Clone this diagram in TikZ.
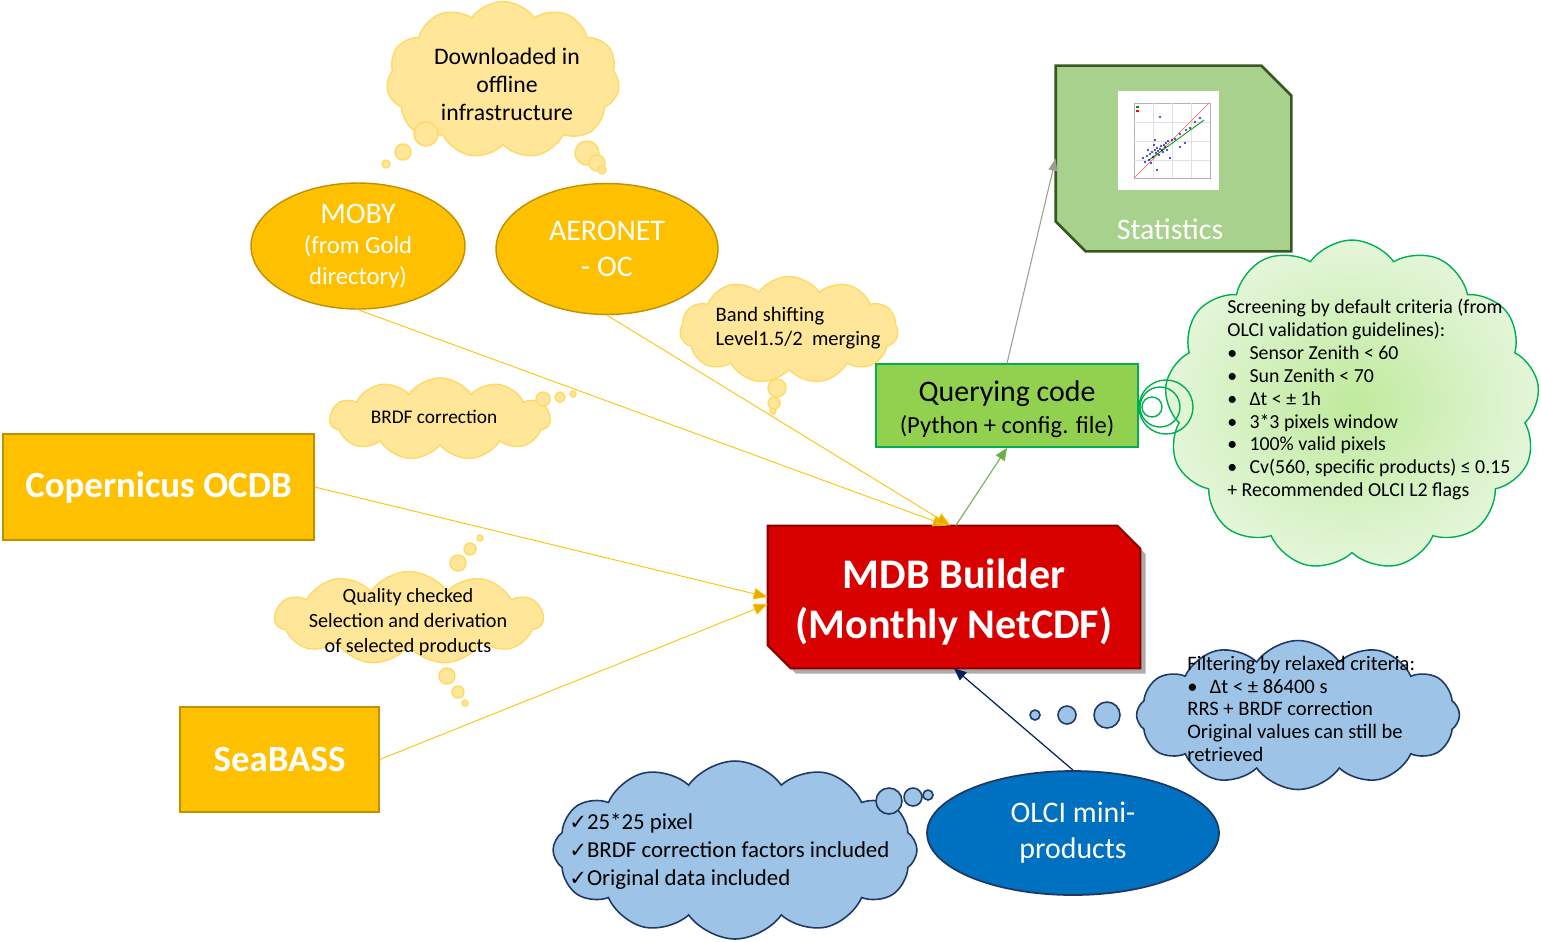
\documentclass[tikz,border=0pt]{standalone}
\usepackage{fontspec}
\setmainfont{Carlito}
\newfontfamily\checkfont{DejaVu Sans}
\usetikzlibrary{shapes.geometric,shapes.symbols,arrows.meta}

\definecolor{gold}{HTML}{FFC000}
\definecolor{goldedge}{HTML}{BF9000}
\definecolor{arrowgold}{HTML}{E6AC00}
\definecolor{ycloud}{HTML}{FFE699}
\definecolor{ycloudedge}{HTML}{FFD966}
\definecolor{bcloud}{HTML}{9DC3E6}
\definecolor{navy}{HTML}{1F3864}
\definecolor{arrownavy}{HTML}{002060}
\definecolor{olciblue}{HTML}{0070C0}
\definecolor{qgreen}{HTML}{92D050}
\definecolor{qedge}{HTML}{00B050}
\definecolor{arrowgreen}{HTML}{70AD47}
\definecolor{statfill}{HTML}{A9D18E}
\definecolor{statedge}{HTML}{385723}
\definecolor{gcenter}{HTML}{BFEA9C}
\definecolor{gouter}{HTML}{E4F6DA}
\definecolor{mdbred}{HTML}{D90000}
\definecolor{arrowgray}{HTML}{A09A90}

\newcommand{\fsz}[2]{\fontsize{#1}{#2}\selectfont}
\newcommand{\bitem}{\textbullet\hspace{7pt}}
\newcommand{\tick}{{\checkfont\fsz{12}{16}✓}}
% outline of a box with its top right and bottom left corners cut off
\newcommand{\snipped}[2]{(#1.north west) -- ([xshift=-#2]#1.north east) -- ([yshift=-#2]#1.north east) -- (#1.south east) -- ([xshift=#2]#1.south west) -- ([yshift=#2]#1.south west) -- cycle}

\begin{document}
\begin{tikzpicture}[x=0.02cm,y=-0.02cm,
    src/.style={fill=gold,draw=goldedge,line width=0.8pt,text=white},
    ycl/.style={cloud,cloud puffs=11,cloud puff arc=110,cloud ignores aspect,fill=ycloud,draw=ycloudedge,line width=0.8pt,inner sep=0pt},
    ybub/.style={fill=ycloud,draw=ycloudedge,line width=0.8pt},
    bcl/.style={cloud,cloud puffs=12,cloud puff arc=110,cloud ignores aspect,fill=bcloud,draw=navy,line width=0.9pt,inner sep=0pt},
    bbub/.style={fill=bcloud,draw=navy,line width=0.9pt},
    feed/.style={draw=gold,line width=0.5pt,-{Triangle[length=8pt,width=6.5pt,fill=arrowgold]}}]
    \useasboundingbox (0,0) rectangle (1541,941);

    \node[ycl,minimum width=4.66cm,minimum height=3.14cm] (dlcloud) at (503,80) {};
    \foreach \x/\y/\r in {426/134/12,403/152/8,386/164/4,587/153/12,597/163/8,602/170/4}
        \draw[ybub] (\x,\y) circle (\r);
    \node[align=center,font=\fsz{13.5}{16}] (dltext) at (507,84) {Downloaded in\\offline\\infrastructure};

    \node[src,ellipse,minimum width=4.28cm,minimum height=2.52cm,inner sep=0pt,align=center,font=\fsz{14}{17.3}] (moby) at (358,246) {{\fsz{17}{17.3}MOBY}\\(from Gold\\directory)};
    \node[src,ellipse,minimum width=4.44cm,minimum height=2.62cm,inner sep=0pt,align=center,font=\fsz{17}{20.5}] (aeronet) at (607,249) {AERONET\\- OC};

    \node[ycl,minimum width=4.36cm,minimum height=2.14cm] (bandcloud) at (789,330) {};
    \foreach \x/\y/\r in {777/388/9,774/403/6,773/411/3}
        \draw[ybub] (\x,\y) circle (\r);
    \node[align=left,font=\fsz{11.7}{14}] (bandtext) at (798,328) {Band shifting\\Level1.5/2\ \ merging};

    \node[ycl,minimum width=4.4cm,minimum height=1.64cm] (brdfcloud) at (440,419) {};
    \foreach \x/\y/\r in {543/399/7,560/397/5,573/394/3}
        \draw[ybub] (\x,\y) circle (\r);
    \node[font=\fsz{11}{13}] (brdftext) at (434,417) {BRDF correction};

    \node[ycl,minimum width=5.36cm,minimum height=1.86cm] (qccloud) at (409,618) {};
    \foreach \x/\y/\r in {458/563/8,470/549/6,480/538/3,447/676/8,458/692/6,465/703/3}
        \draw[ybub] (\x,\y) circle (\r);
    \node[align=center,font=\fsz{11.5}{14}] (qctext) at (408,622) {Quality checked\\Selection and derivation\\of selected products};

    \node[src,minimum width=6.22cm,minimum height=2.12cm,font=\bfseries\fsz{21}{25}] (ocdb) at (158.5,487) {Copernicus OCDB};
    \node[src,minimum width=3.98cm,minimum height=2.1cm,font=\bfseries\fsz{21}{25}] (seabass) at (279.5,759.5) {SeaBASS};

    \node[minimum width=7.44cm,minimum height=2.84cm,inner sep=0pt] (mdb) at (954,597) {};
    \fill[black!55,opacity=0.6,transform canvas={shift={(3pt,-3pt)}}] \snipped{mdb}{0.46cm};
    \draw[fill=mdbred,draw=mdbred!65!black,line width=1.2pt] \snipped{mdb}{0.46cm};
    \node[text=white,font=\bfseries\fsz{24}{28.5},align=center] (mdbtext) at (954,602) {MDB Builder\\(Monthly NetCDF)};

    \node[fill=qgreen,draw=qedge,line width=1pt,minimum width=5.24cm,minimum height=1.66cm] (query) at (1007,405.5) {};
    \node[align=center,font=\fsz{14}{18}] (querytext) at (1007,409) {{\fsz{17}{18}Querying code}\\(Python + config. file)};

    \node[minimum width=4.7cm,minimum height=3.7cm,inner sep=0pt] (stats) at (1173.5,158.5) {};
    \draw[fill=statfill,draw=statedge,line width=1.5pt] \snipped{stats}{0.6cm};
    \fill[white] (1118,91) rectangle (1219,190);
    \draw[black!30,line width=0.3pt] (1134,103) rectangle (1210,178);
    \foreach \g in {1153,1172,1191}
        \draw[black!12,line width=0.2pt] (\g,103) -- (\g,178);
    \foreach \g in {122,141,160}
        \draw[black!12,line width=0.2pt] (1134,\g) -- (1210,\g);
    \draw[red!55,line width=0.4pt] (1134,178) -- (1209,103);
    \draw[green!60!black,line width=0.5pt] (1149,160) -- (1204,120);
    \fill[green!60!black] (1136,106) rectangle (1139,108);
    \fill[red] (1136,110) rectangle (1139,112);
    \foreach \x/\y in {1147/156,1150/154,1152/152,1153/157,1155/150,1156/153,1157/148,1158/151,1160/149,1161/146,1159/155,1162/150,1164/145,1165/147,1166/143,1149/160,1145/162,1151/163,1168/141,1172/140,1175/139,1180/134,1186/130,1190/128,1195/122,1160/117,1155/140,1170/158,1180/147,1185/143,1200/118,1143/158,1154/145,1163/152,1167/150,1148/150,1157/170}
        \draw[blue!60!black,line width=0.25pt] (\x,\y) circle (0.9);
    \node[text=white,font=\fsz{17}{20}] (statlbl) at (1170,229) {Statistics};

    \node[cloud,cloud puffs=13,cloud puff arc=110,cloud ignores aspect,inner color=gcenter,outer color=gouter,draw=qedge,line width=0.8pt,minimum width=7.5cm,minimum height=6.6cm] (critcloud) at (1352,405) {};
    \foreach \x/\r in {1152/10,1160/20,1166/27}
        \draw[qedge,line width=0.8pt] (\x,407) circle (\r);
    \node[anchor=north west,inner sep=0pt,align=left,font=\fsz{11.3}{13}] (crittext) at (1227,299) {Screening by default criteria (from\\OLCI validation guidelines):\\\bitem Sensor Zenith < 60\\\bitem Sun Zenith < 70\\\bitem Δt < ± 1h\\\bitem 3*3 pixels window\\\bitem 100\% valid pixels\\\bitem Cv(560, specific products) ≤ 0.15\\+ Recommended OLCI L2 flags};

    \node[bcl,minimum width=6.46cm,minimum height=2.98cm] (filtcloud) at (1298,715) {};
    \foreach \x/\y/\r in {1107/715/13,1067/715/9,1035/715/5}
        \draw[bbub] (\x,\y) circle (\r);
    \node[anchor=north west,inner sep=0pt,align=left,font=\fsz{11.7}{12.9}] (filttext) at (1187,656) {Filtering by relaxed criteria:\\\bitem Δt < ± 86400 s\\RRS + BRDF correction\\Original values can still be\\retrieved};

    \node[bcl,minimum width=7.28cm,minimum height=3.56cm] (chkcloud) at (735,850) {};
    \foreach \x/\y/\r in {889/801/13,913/797/9,928/795/5}
        \draw[bbub] (\x,\y) circle (\r);
    \node[anchor=north west,inner sep=0pt,align=left,font=\fsz{13}{16}] (chktext) at (569,813) {\tick25*25 pixel\\\tick BRDF correction factors included\\\tick Original data included};

    \node[ellipse,fill=olciblue,draw=navy,line width=1pt,minimum width=5.84cm,minimum height=2.48cm,inner sep=0pt,text=white,align=center,font=\fsz{17}{20.5}] (olci) at (1073,833) {OLCI mini-\\products};

    \draw[feed] (moby.south) -- ([xshift=-4pt]mdb.north);
    \draw[feed] (aeronet.south) -- ([xshift=-2pt]mdb.north);
    \draw[feed] (ocdb.east) -- (mdb.west);
    \draw[feed] (seabass.east) -- ([yshift=-4pt]mdb.west);
    \draw[arrowgreen,line width=0.6pt,-{Triangle[length=7pt,width=6pt]}] ([xshift=1pt]mdb.north) -- (query.south);
    \draw[arrowgray,line width=0.6pt,-{Triangle[length=7pt,width=5pt]}] (query.north) -- (stats.west);
    \draw[arrownavy,line width=0.7pt,-{Triangle[length=7pt,width=6pt]}] (olci.north) -- (mdb.south);
\end{tikzpicture}
\end{document}
